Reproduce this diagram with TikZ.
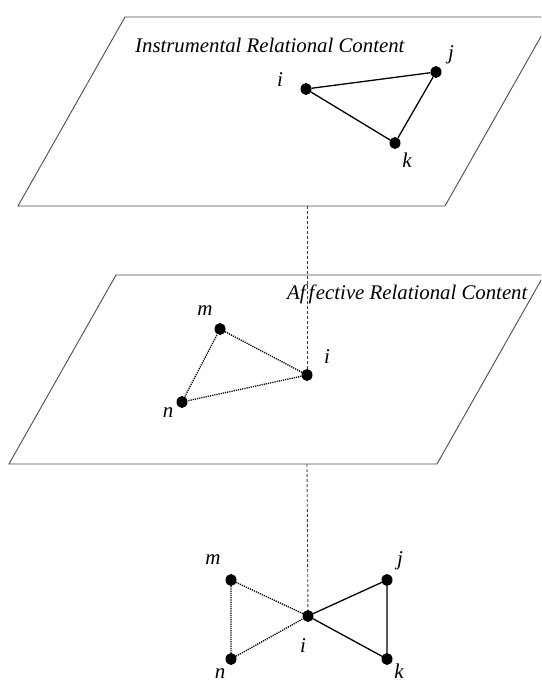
\documentclass[tikz,border=0pt]{standalone}
\usepackage{fontspec}
\setmainfont{Liberation Serif}
\usetikzlibrary{shapes.geometric}
\begin{document}
\begin{tikzpicture}[x=1pt,y=-1pt,
  plane/.style={draw=black!70, line width=0.9pt},
  dot/.style={ellipse, fill=black, inner sep=0pt, minimum width=11pt, minimum height=12pt},
  lbl/.style={inner sep=0pt, font=\fontsize{21}{24}\selectfont\itshape},
  ttl/.style={inner sep=0pt, font=\fontsize{20.8}{24}\selectfont\itshape, anchor=base west},
  solidedge/.style={black, line width=1.3pt},
  dotedge/.style={black, line width=1.3pt, dash pattern=on 1.2pt off 1pt},
  vline/.style={black!75, line width=0.9pt, dash pattern=on 3pt off 2pt}]
\useasboundingbox (0,0) rectangle (541,684);
\clip (0,0) rectangle (541,684);
% planes
\draw[plane] (125,17) -- (552,17) -- (445,206) -- (18,206) -- cycle;
\draw[plane] (116,275) -- (544,275) -- (437,464) -- (9,464) -- cycle;
\coordinate (tb) at (307,206);
\coordinate (mb) at (307,464);
% titles
\node[ttl] (t1) at (135,53) {Instrumental Relational Content};
% top layer
\node[dot] (ti) at (306,89) {};
\node[dot] (tj) at (436,72) {};
\node[dot] (tk) at (395,143) {};
\node[lbl] (lti) at (280,80) {i};
\node[lbl] (ltj) at (451,55) {j};
\node[lbl] (ltk) at (407,160) {k};
\draw[solidedge] (ti) -- (tj) -- (tk) -- (ti);
% middle layer
\draw[vline] (tb) -- (307,375);
\node[ttl] (t2) at (287,299) {Af\kern3pt f\kern1.5pt ective Relational Content};
\node[dot] (mm) at (220,329) {};
\node[dot] (mi) at (307,375) {};
\node[dot] (mn) at (182,402) {};
\node[lbl] (lmm) at (205,311) {m};
\node[lbl] (lmi) at (327,357) {i};
\node[lbl] (lmn) at (168,413) {n};
\draw[dotedge] (mm) -- (mi) -- (mn) -- (mm);
% bottom layer
\node[dot] (bm) at (231,580) {};
\node[dot] (bi) at (308,616) {};
\node[dot] (bj) at (387,580) {};
\node[dot] (bn) at (231,659) {};
\node[dot] (bk) at (387,659) {};
\node[lbl] (lbm) at (213,560) {m};
\node[lbl] (lbi) at (303,646) {i};
\node[lbl] (lbj) at (400,561) {j};
\node[lbl] (lbn) at (220,674) {n};
\node[lbl] (lbk) at (399,671) {k};
\draw[vline] (mb) -- (bi);
\draw[dotedge] (bm) -- (bn) -- (bi) -- (bm);
\draw[solidedge] (bi) -- (bj) -- (bk) -- (bi);
\end{tikzpicture}
\end{document}
